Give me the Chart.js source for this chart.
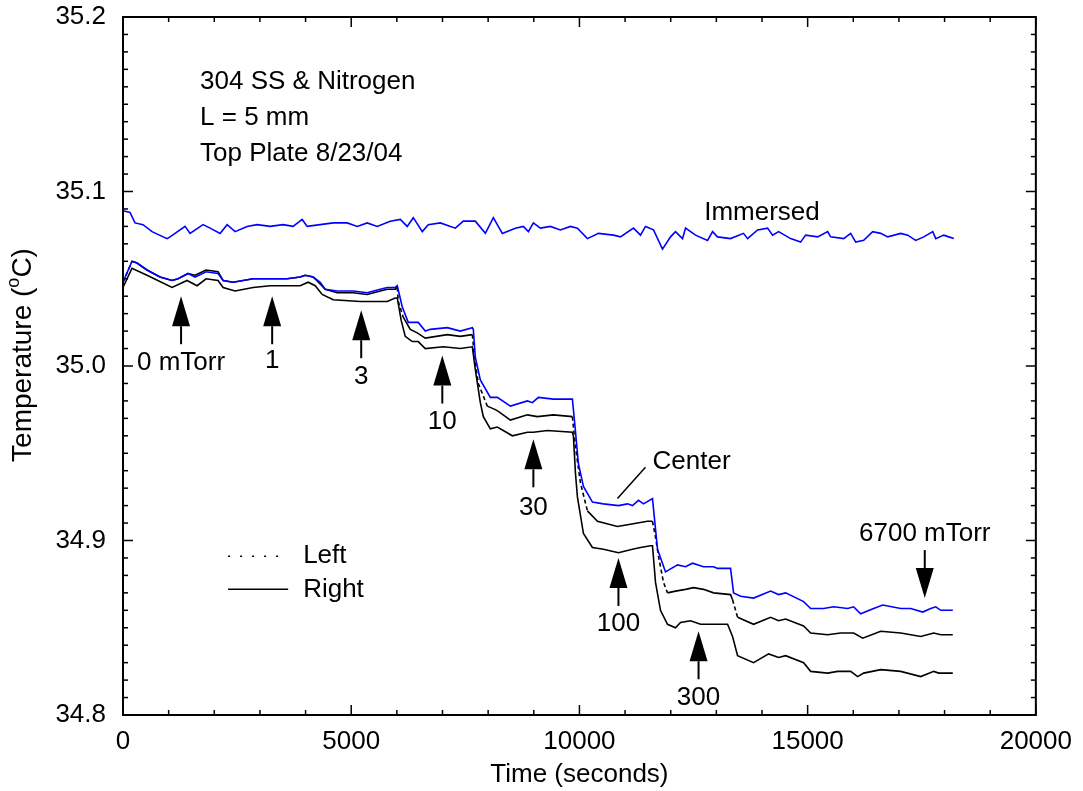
<!DOCTYPE html>
<html>
<head>
<meta charset="utf-8">
<script src="https://cdn.jsdelivr.net/npm/chart.js@4.4.1/dist/chart.umd.min.js"></script>
<style>
  html, body { margin: 0; padding: 0; background: #fff; }
  #wrap { width: 1083px; height: 791px; }
</style>
</head>
<body>
<div id="wrap"><canvas id="chart"></canvas></div>
<script>
// time (s) / temperature (C)
const immersedTime = [0, 154, 263, 439, 636, 965, 1031, 1360, 1469, 1754, 1908, 2127, 2281, 2456, 2719, 2939, 3224, 3509, 3728, 3925, 4035, 4320, 4605, 4912, 5132, 5351, 5570, 5855, 6075, 6228, 6360, 6557, 6689, 6952, 7281, 7456, 7719, 7939, 8114, 8311, 8596, 8772, 8882, 8991, 9145, 9364, 9583, 9803, 9956, 10175, 10417, 10746, 10899, 11184, 11338, 11447, 11623, 11820, 11996, 12105, 12259, 12325, 12544, 12807, 12917, 13026, 13311, 13596, 13684, 13904, 14123, 14232, 14364, 14627, 14846, 14956, 15219, 15439, 15504, 15789, 15943, 16053, 16228, 16425, 16601, 16754, 17039, 17193, 17368, 17544, 17741, 17807, 17982, 18092, 18202];
const immersedTemp = [35.089, 35.088, 35.082, 35.081, 35.077, 35.073, 35.074, 35.080, 35.076, 35.081, 35.079, 35.076, 35.081, 35.077, 35.080, 35.081, 35.080, 35.081, 35.080, 35.084, 35.080, 35.081, 35.082, 35.082, 35.080, 35.082, 35.080, 35.083, 35.084, 35.080, 35.085, 35.077, 35.081, 35.082, 35.079, 35.083, 35.083, 35.076, 35.085, 35.076, 35.079, 35.080, 35.077, 35.082, 35.079, 35.080, 35.078, 35.080, 35.079, 35.073, 35.076, 35.075, 35.074, 35.079, 35.075, 35.080, 35.078, 35.067, 35.074, 35.077, 35.073, 35.079, 35.075, 35.072, 35.077, 35.074, 35.073, 35.076, 35.073, 35.078, 35.079, 35.075, 35.077, 35.073, 35.071, 35.075, 35.074, 35.077, 35.074, 35.073, 35.076, 35.071, 35.072, 35.077, 35.076, 35.074, 35.076, 35.075, 35.072, 35.074, 35.077, 35.073, 35.075, 35.074, 35.073];

const centerTime = [0, 197, 307, 526, 811, 1075, 1206, 1425, 1579, 1820, 2083, 2193, 2412, 2851, 3224, 3596, 3882, 3991, 4167, 4320, 4430, 4693, 5044, 5351, 5636, 5789, 5965, 6009, 6118, 6250, 6469, 6623, 6732, 7105, 7390, 7654, 7675, 7719, 7829, 8048, 8202, 8487, 8860, 8969, 9101, 9430, 9846, 9912, 9978, 10088, 10285, 10526, 10855, 11053, 11162, 11294, 11404, 11601, 11711, 11886, 12149, 12325, 12478, 12719, 12939, 13026, 13311, 13377, 13531, 13816, 14189, 14364, 14518, 14912, 15066, 15351, 15570, 15877, 16009, 16162, 16447, 16645, 17039, 17259, 17522, 17697, 17807, 17917, 18180];
const centerTemp = [35.048, 35.060, 35.059, 35.055, 35.051, 35.049, 35.050, 35.053, 35.051, 35.054, 35.053, 35.049, 35.048, 35.050, 35.050, 35.050, 35.051, 35.052, 35.051, 35.048, 35.044, 35.043, 35.043, 35.042, 35.044, 35.045, 35.045, 35.046, 35.034, 35.025, 35.025, 35.020, 35.021, 35.022, 35.020, 35.022, 35.021, 35.005, 34.992, 34.982, 34.982, 34.977, 34.980, 34.979, 34.982, 34.981, 34.981, 34.963, 34.944, 34.931, 34.922, 34.921, 34.920, 34.921, 34.920, 34.923, 34.921, 34.924, 34.895, 34.882, 34.886, 34.885, 34.887, 34.885, 34.885, 34.884, 34.884, 34.870, 34.868, 34.867, 34.871, 34.869, 34.870, 34.865, 34.861, 34.861, 34.862, 34.861, 34.862, 34.858, 34.861, 34.863, 34.861, 34.861, 34.859, 34.861, 34.862, 34.860, 34.860];

const leftTime = [0, 197, 307, 526, 811, 1075, 1206, 1425, 1579, 1820, 2083, 2193, 2412, 2851, 3224, 3596, 3882, 3991, 4167, 4320, 4430, 4693, 5044, 5351, 5636, 5789, 5965, 6009, 6031, 6140, 6294, 6447, 6623, 7105, 7390, 7654, 7700, 7785, 7982, 8158, 8224, 8487, 8860, 9079, 9430, 9846, 9912, 10022, 10175, 10395, 10833, 11053, 11272, 11491, 11601, 11667, 11732, 11842, 11930, 12105, 12325, 12500, 12719, 12939, 13311, 13355, 13465, 13816, 14189, 14364, 14518, 14912, 15066, 15439, 15724, 16009, 16206, 16601, 17039, 17478, 17763, 17917, 18180];
const leftTemp = [35.048, 35.060, 35.059, 35.055, 35.051, 35.049, 35.050, 35.053, 35.052, 35.055, 35.054, 35.049, 35.048, 35.050, 35.050, 35.050, 35.051, 35.052, 35.051, 35.047, 35.044, 35.042, 35.042, 35.041, 35.043, 35.044, 35.044, 35.045, 35.037, 35.028, 35.021, 35.019, 35.016, 35.018, 35.017, 35.018, 35.005, 34.990, 34.977, 34.975, 34.974, 34.969, 34.972, 34.971, 34.972, 34.971, 34.954, 34.933, 34.917, 34.911, 34.908, 34.909, 34.910, 34.911, 34.911, 34.902, 34.891, 34.876, 34.870, 34.871, 34.872, 34.873, 34.872, 34.870, 34.869, 34.866, 34.856, 34.852, 34.856, 34.854, 34.855, 34.851, 34.847, 34.846, 34.847, 34.847, 34.844, 34.848, 34.847, 34.845, 34.847, 34.846, 34.846];

const rightTime = [0, 197, 526, 1075, 1403, 1623, 1820, 2083, 2193, 2456, 2851, 3224, 3596, 3882, 4057, 4211, 4364, 4605, 5197, 5789, 5965, 6009, 6096, 6184, 6338, 6469, 6623, 7018, 7390, 7654, 7719, 7829, 7895, 8048, 8202, 8531, 8860, 8991, 9298, 9846, 9868, 9912, 9956, 10088, 10285, 10526, 10855, 11162, 11338, 11557, 11601, 11667, 11776, 11930, 12105, 12215, 12434, 12654, 12917, 13246, 13355, 13465, 13816, 14145, 14364, 14518, 14912, 15066, 15439, 15658, 15943, 16096, 16228, 16601, 17039, 17478, 17763, 17873, 18180];
const rightTemp = [35.045, 35.056, 35.052, 35.045, 35.049, 35.046, 35.050, 35.049, 35.045, 35.043, 35.045, 35.046, 35.046, 35.046, 35.048, 35.046, 35.041, 35.038, 35.037, 35.037, 35.039, 35.039, 35.026, 35.017, 35.014, 35.014, 35.010, 35.011, 35.010, 35.011, 34.998, 34.979, 34.971, 34.964, 34.965, 34.960, 34.962, 34.962, 34.963, 34.962, 34.960, 34.939, 34.925, 34.904, 34.896, 34.895, 34.893, 34.895, 34.896, 34.897, 34.897, 34.876, 34.860, 34.852, 34.850, 34.853, 34.854, 34.852, 34.852, 34.852, 34.845, 34.834, 34.830, 34.835, 34.833, 34.834, 34.830, 34.825, 34.824, 34.825, 34.825, 34.822, 34.824, 34.826, 34.825, 34.822, 34.825, 34.824, 34.824];

// pressure step markers (time, arrow tip temperature, label temperature)
const steps = [
  { text: '0 mTorr', t: 1272, tip: 35.040, lab: 35.002, dir: 'up' },
  { text: '1', t: 3268, tip: 35.040, lab: 35.003, dir: 'up' },
  { text: '3', t: 5219, tip: 35.032, lab: 34.994, dir: 'up' },
  { text: '10', t: 6996, tip: 35.006, lab: 34.968, dir: 'up' },
  { text: '30', t: 8991, tip: 34.958, lab: 34.919, dir: 'up' },
  { text: '100', t: 10855, tip: 34.890, lab: 34.852, dir: 'up' },
  { text: '300', t: 12610, tip: 34.848, lab: 34.810, dir: 'up' },
  { text: '6700 mTorr', t: 17566, tip: 34.867, lab: 34.904, dir: 'down' },
];

const infoLines = ['304 SS & Nitrogen', 'L = 5 mm', 'Top Plate 8/23/04'];

const FONT = '"Liberation Sans", Arial, Helvetica, sans-serif';
const BLUE = '#0000ff';

function pts(xs, ys) {
  return xs.map(function (x, i) { return { x: x, y: ys[i] }; });
}

function steep(ctx) {
  const dx = Math.abs(ctx.p1.x - ctx.p0.x);
  const dy = Math.abs(ctx.p1.y - ctx.p0.y);
  return dy > 6 && dy > 2 * dx ? [4, 3] : undefined;
}

const decor = {
  id: 'decor',
  afterDraw(chart) {
    const ctx = chart.ctx;
    const a = chart.chartArea;
    const x = chart.scales.x;
    const y = chart.scales.y;
    const X = function (v) { return x.getPixelForValue(v); };
    const Y = function (v) { return y.getPixelForValue(v); };
    ctx.save();
    ctx.strokeStyle = '#000';
    ctx.fillStyle = '#000';

    function seg(x0, y0, x1, y1) {
      ctx.beginPath(); ctx.moveTo(x0, y0); ctx.lineTo(x1, y1); ctx.stroke();
    }

    // inward ticks on all four sides
    ctx.lineWidth = 1.5;
    x.ticks.forEach(function (t) {
      const p = X(t.value);
      const len = t.label !== '' ? 10 : 5;
      seg(p, a.bottom, p, a.bottom - len);
      seg(p, a.top, p, a.top + len);
    });
    y.ticks.forEach(function (t) {
      const p = Y(t.value);
      const len = t.label !== '' ? 10 : 5;
      seg(a.left, p, a.left + len, p);
      seg(a.right, p, a.right - len, p);
    });
    ctx.lineWidth = 2;
    ctx.strokeRect(a.left, a.top, a.right - a.left, a.bottom - a.top);

    // y axis title with superscript
    ctx.save();
    ctx.translate(23, 355);
    ctx.rotate(-Math.PI / 2);
    ctx.textBaseline = 'middle';
    ctx.textAlign = 'left';
    const big = '28px ' + FONT;
    const small = '18px ' + FONT;
    ctx.font = big;
    const w1 = ctx.measureText('Temperature (').width;
    const w3 = ctx.measureText('C)').width;
    ctx.font = small;
    const w2 = ctx.measureText('o').width;
    const start = -(w1 + w2 + w3) / 2;
    ctx.font = big;
    ctx.fillText('Temperature (', start, 0);
    ctx.font = small;
    ctx.fillText('o', start + w1, -9);
    ctx.font = big;
    ctx.fillText('C)', start + w1 + w2, 0);
    ctx.restore();

    // arrows and labels
    ctx.font = '26px ' + FONT;
    ctx.textAlign = 'center';
    ctx.textBaseline = 'middle';
    ctx.lineWidth = 2;
    steps.forEach(function (s) {
      const px = X(s.t);
      const tip = Y(s.tip);
      const k = s.dir === 'up' ? 1 : -1;
      const head = 30, half = 9, stem = 18;
      ctx.beginPath();
      ctx.moveTo(px, tip);
      ctx.lineTo(px - half, tip + k * head);
      ctx.lineTo(px + half, tip + k * head);
      ctx.closePath();
      ctx.fill();
      seg(px, tip + k * head, px, tip + k * (head + stem));
      ctx.fillText(s.text, px, Y(s.lab));
    });

    ctx.fillText('Immersed', X(14000), Y(35.088));
    ctx.fillText('Center', X(12456), Y(34.945));
    ctx.lineWidth = 1.5;
    seg(X(11447), Y(34.942), X(10833), Y(34.924));

    ctx.textAlign = 'left';
    infoLines.forEach(function (s, i) {
      ctx.fillText(s, X(1689), Y(35.163 - i * 0.0207));
    });

    // legend
    ctx.lineWidth = 1.5;
    ctx.setLineDash([2, 10]);
    seg(X(2303), Y(34.891), X(3618), Y(34.891));
    ctx.setLineDash([]);
    seg(X(2303), Y(34.872), X(3618), Y(34.872));
    ctx.fillText('Left', X(3947), Y(34.891));
    ctx.fillText('Right', X(3947), Y(34.872));
    ctx.restore();
  },
};

new Chart(document.getElementById('chart'), {
  type: 'line',
  data: {
    datasets: [
      { label: 'Center', data: pts(centerTime, centerTemp), borderColor: BLUE, order: 0 },
      { label: 'Immersed', data: pts(immersedTime, immersedTemp), borderColor: BLUE, order: 1 },
      { label: 'Left', data: pts(leftTime, leftTemp), borderColor: '#000', order: 2,
        segment: { borderDash: steep } },
      { label: 'Right', data: pts(rightTime, rightTemp), borderColor: '#000', order: 3 },
    ],
  },
  options: {
    responsive: true,
    maintainAspectRatio: false,
    animation: false,
    parsing: false,
    layout: { padding: { top: 17, right: 47, left: 0, bottom: 0 } },
    elements: {
      line: { borderWidth: 1.6, tension: 0, fill: false },
      point: { radius: 0, hoverRadius: 0 },
    },
    plugins: { legend: { display: false }, tooltip: { enabled: false } },
    scales: {
      x: {
        type: 'linear',
        min: 0,
        max: 20000,
        grid: { display: false, drawTicks: false },
        border: { display: false },
        afterFit: function (s) { s.height = 76; },
        title: {
          display: true,
          text: 'Time (seconds)',
          color: '#000',
          font: { family: FONT, size: 26 },
          padding: { top: 0, bottom: 1 },
        },
        ticks: {
          stepSize: 1000,
          autoSkip: false,
          maxRotation: 0,
          maxTicksLimit: 100,
          padding: 11,
          color: '#000',
          font: { family: FONT, size: 26 },
          callback: function (v) { return v % 5000 === 0 ? String(v) : ''; },
        },
      },
      y: {
        min: 34.8,
        max: 35.2,
        grid: { display: false, drawTicks: false },
        border: { display: false },
        afterFit: function (s) {
          s.width = 123;
          s.paddingTop = 0;
          s.paddingBottom = 0;
        },
        ticks: {
          stepSize: 0.01,
          autoSkip: false,
          maxTicksLimit: 100,
          padding: 17,
          color: '#000',
          font: { family: FONT, size: 26 },
          callback: function (v) {
            const r = Math.round(v * 10) / 10;
            return Math.abs(v - r) < 1e-6 ? r.toFixed(1) : '';
          },
        },
      },
    },
  },
  plugins: [decor],
});
</script>
</body>
</html>
